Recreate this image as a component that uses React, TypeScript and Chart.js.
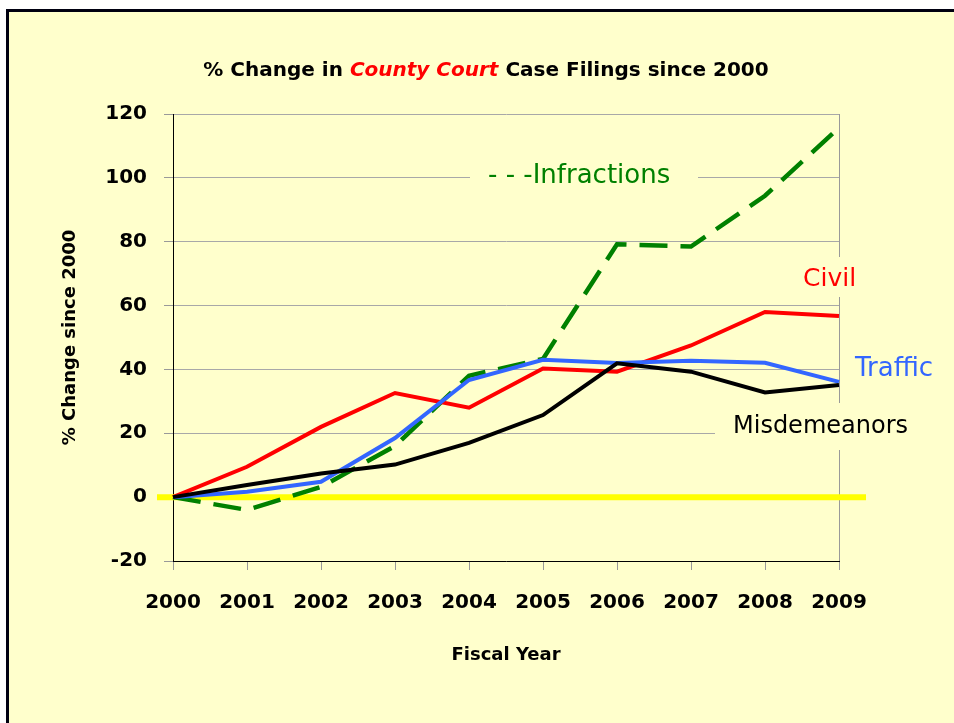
import React, { useEffect, useRef } from "react";
import { Chart, registerables } from "chart.js";

Chart.register(...registerables);

const years = ["2000", "2001", "2002", "2003", "2004", "2005", "2006", "2007", "2008", "2009"];
const civil = [0, 9.5, 22, 32.6, 28, 40.3, 39.3, 47.5, 58, 56.7];
const traffic = [0, 1.7, 4.8, 18.5, 36.7, 43, 42, 42.7, 42.1, 36.1];
const misdemeanors = [0, 3.8, 7.4, 10.2, 17, 25.7, 41.9, 39.3, 32.8, 35.1];
const infractions = [0, -4, 3.2, 16, 38, 43.3, 79.2, 78.5, 94.4, 115.7];
const yTicks = { min: -20, max: 120, step: 20 };

const BG = "#FFFFCC";
const FONT = "'DejaVu Sans', sans-serif";

const framePlugin = {
  id: "frame",
  beforeDraw(chart: any) {
    const { ctx, width, height } = chart;
    ctx.save();
    ctx.fillStyle = "#FFFFFF";
    ctx.fillRect(0, 0, width, height);
    ctx.fillStyle = BG;
    ctx.fillRect(8, 10, width - 8, height - 10);
    ctx.fillStyle = "#000010";
    ctx.fillRect(6, 9, width - 6, 3);
    ctx.fillRect(6, 9, 3, height - 9);
    // title
    const parts = [
      { t: "% Change in ", c: "#000000", f: `bold 20px ${FONT}` },
      { t: "County Court", c: "#FF0000", f: `italic bold 20px ${FONT}` },
      { t: " Case Filings since 2000", c: "#000000", f: `bold 20px ${FONT}` },
    ];
    let total = 0;
    for (const p of parts) {
      ctx.font = p.f;
      total += ctx.measureText(p.t).width;
    }
    let x = 486 - total / 2;
    ctx.textBaseline = "middle";
    ctx.textAlign = "left";
    for (const p of parts) {
      ctx.font = p.f;
      ctx.fillStyle = p.c;
      ctx.fillText(p.t, x, 71);
      x += ctx.measureText(p.t).width;
    }
    ctx.restore();
  },
  beforeDatasetsDraw(chart: any) {
    const { ctx } = chart;
    const yS = chart.scales.y;
    const area = chart.chartArea;
    ctx.save();
    // zero line
    const y0 = yS.getPixelForValue(0);
    ctx.strokeStyle = "#FFFF00";
    ctx.lineWidth = 6;
    ctx.beginPath();
    ctx.moveTo(area.left - 16, y0);
    ctx.lineTo(area.right + 27, y0);
    ctx.stroke();
    // series labels with background boxes
    const labels = [
      { t: "- - -Infractions", c: "#008000", s: 26, x: 488, y: 176, box: [470, 163, 228, 28] },
      { t: "Civil", c: "#FF0000", s: 25, x: 803, y: 279, box: [795, 257, 70, 40] },
      { t: "Traffic", c: "#3366FF", s: 26, x: 855, y: 369, box: [848, 352, 104, 34] },
      { t: "Misdemeanors", c: "#000000", s: 24, x: 733, y: 427, box: [715, 403, 210, 47] },
    ];
    ctx.textBaseline = "middle";
    ctx.textAlign = "left";
    for (const l of labels) {
      ctx.fillStyle = BG;
      ctx.fillRect(l.box[0], l.box[1], l.box[2], l.box[3]);
      ctx.font = `${l.s}px ${FONT}`;
      ctx.fillStyle = l.c;
      ctx.fillText(l.t, l.x, l.y);
    }
    ctx.restore();
  },
};

export default function App() {
  const ref = useRef<HTMLCanvasElement | null>(null);
  useEffect(() => {
    if (!ref.current) return;
    const lineDs = (label: string, data: number[], color: string, extra: any = {}) => ({
      label,
      data,
      borderColor: color,
      backgroundColor: color,
      borderWidth: 4,
      pointRadius: 0,
      tension: 0,
      fill: false,
      ...extra,
    });
    const chart = new Chart(ref.current, {
      type: "line",
      data: {
        labels: years,
        datasets: [
          lineDs("Misdemeanors", misdemeanors, "#000000"),
          lineDs("Traffic", traffic, "#3366FF"),
          lineDs("Civil", civil, "#FF0000"),
          lineDs("Infractions", infractions, "#008000", { borderDash: [28, 13], borderWidth: 4.5 }),
        ],
      },
      options: {
        animation: false,
        responsive: false,
        devicePixelRatio: 1,
        layout: { padding: { left: 50, top: 114, right: 115, bottom: 42 } },
        plugins: { legend: { display: false }, tooltip: { enabled: false }, title: { display: false } },
        scales: {
          x: {
            offset: false,
            afterFit: (s: any) => {
              s.height = 120;
            },
            grid: {
              color: (c: any) => (c.index === years.length - 1 ? "#999999" : "rgba(0,0,0,0)"),
              tickColor: "#999999",
              tickLength: 9,
              lineWidth: 1,
            },
            border: { color: "#000000", width: 1 },
            ticks: {
              color: "#000000",
              font: { family: FONT, size: 20, weight: "bold" },
              padding: 21,
              maxRotation: 0,
              autoSkip: false,
            },
            title: {
              display: true,
              text: "Fiscal Year",
              color: "#000000",
              font: { family: FONT, size: 18, weight: "bold" },
              padding: { top: 0, bottom: 15 },
            },
          },
          y: {
            min: yTicks.min,
            max: yTicks.max,
            afterFit: (s: any) => {
              s.width = 123;
            },
            grid: { color: "#A8A8A8", tickColor: "#999999", tickLength: 9, lineWidth: 1 },
            border: { color: "#000000", width: 1 },
            ticks: {
              stepSize: yTicks.step,
              color: "#000000",
              font: { family: FONT, size: 20, weight: "bold" },
              padding: 17,
            },
            title: {
              display: true,
              text: "% Change since 2000",
              color: "#000000",
              font: { family: FONT, size: 18, weight: "bold" },
              padding: { top: 10, bottom: 0 },
            },
          },
        },
      },
      plugins: [framePlugin],
    });
    return () => chart.destroy();
  }, []);
  return (
    <div style={{ position: "absolute", left: 0, top: 0, width: 954, height: 723 }}>
      <canvas ref={ref} width={954} height={723} style={{ display: "block" }} />
    </div>
  );
}
